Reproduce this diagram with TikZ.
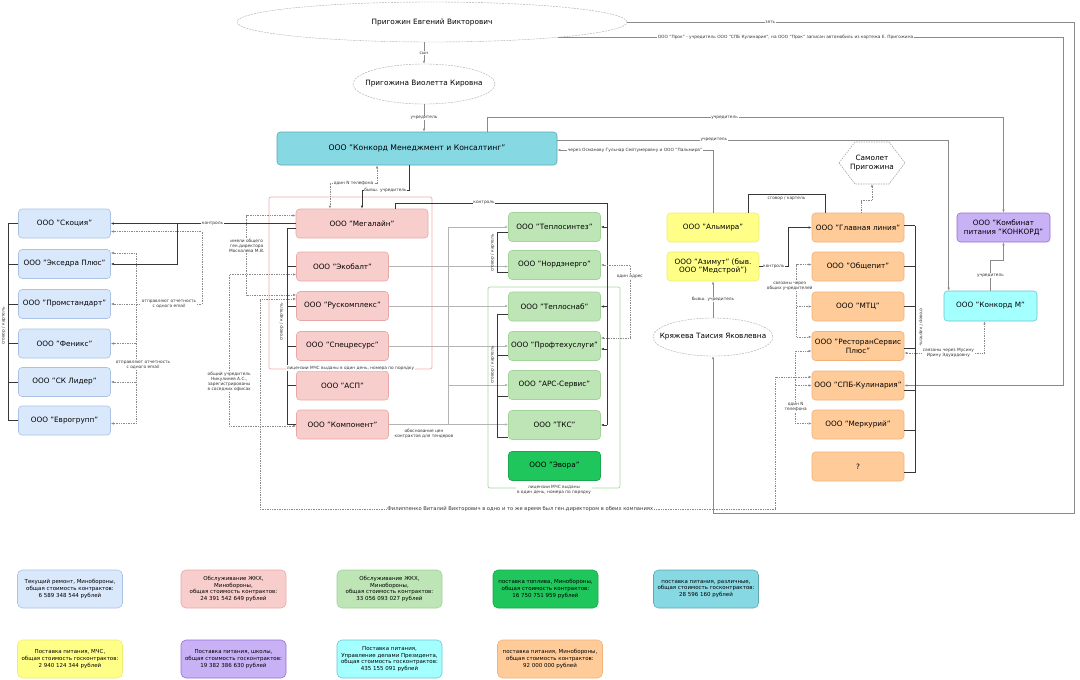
\documentclass[tikz,border=0pt]{standalone}
\usepackage{fontspec}
\setmainfont{DejaVu Sans}
\usetikzlibrary{arrows.meta,calc,shapes.geometric}
\definecolor{cBlue}{HTML}{DAE8FC}
\definecolor{cBlueD}{HTML}{A9C2E6}
\definecolor{cRed}{HTML}{F8CECC}
\definecolor{cRedD}{HTML}{E8A9A6}
\definecolor{cGrn}{HTML}{BDE5B5}
\definecolor{cGrnD}{HTML}{A3D39A}
\definecolor{cDGrn}{HTML}{1EC65C}
\definecolor{cDGrnD}{HTML}{19A84E}
\definecolor{cYel}{HTML}{FFFF88}
\definecolor{cYelD}{HTML}{EDED70}
\definecolor{cOra}{HTML}{FFCC99}
\definecolor{cOraD}{HTML}{EFB27A}
\definecolor{cTeal}{HTML}{86D8E3}
\definecolor{cTealD}{HTML}{5EA8B4}
\definecolor{cPur}{HTML}{C9B1F6}
\definecolor{cPurD}{HTML}{9470D4}
\definecolor{cCyan}{HTML}{A4FFFF}
\definecolor{cCyanD}{HTML}{6BC5D6}
\definecolor{cLn}{HTML}{8A8A8A}
\definecolor{cLn2}{HTML}{B4B4B4}
\definecolor{cDk}{HTML}{383838}
\definecolor{cEl}{HTML}{A8A8A8}
\definecolor{cRedFr}{HTML}{F2AFAF}
\definecolor{cGrnFr}{HTML}{A9D9A2}
\newcommand\bxfont{\fontsize{7.3}{8.8}\selectfont}
\newcommand\lbfont{\fontsize{4.3}{5}\selectfont}
\newcommand\lgfont{\fontsize{5.5}{6.8}\selectfont}
\newcommand\fpfont{\fontsize{5.2}{6}\selectfont}
\tikzset{
 box/.style={rounded corners=3.5pt, draw, line width=0.6pt, minimum width=92pt, minimum height=29pt, align=center, font=\bxfont, inner sep=1pt},
 bbox/.style={box, fill=cBlue, draw=cBlueD},
 rbox/.style={box, fill=cRed, draw=cRedD},
 gbox/.style={box, fill=cGrn, draw=cGrnD},
 dgbox/.style={box, fill=cDGrn, draw=cDGrnD},
 ybox/.style={box, fill=cYel, draw=cYelD},
 obox/.style={box, fill=cOra, draw=cOraD},
 elps/.style={ellipse, draw=cEl, dash pattern=on 2pt off 1pt, fill=white, font=\bxfont, inner sep=0pt},
 lgbox/.style={rounded corners=5pt, draw, line width=0.6pt, minimum width=105pt, minimum height=38pt, align=center, font=\lgfont, inner sep=1pt},
 lbl/.style={font=\lbfont, fill=white, inner sep=0.6pt, align=center, text=black!80},
 gline/.style={draw=cLn, line width=0.6pt},
 lline/.style={draw=cLn2, line width=0.6pt},
 dk/.style={draw=cDk, line width=0.9pt},
 dt/.style={draw=cLn, line width=0.6pt, dash pattern=on 0.8pt off 0.9pt},
 ar/.style={-{Latex[length=3pt,width=2.4pt]}},
 ar2/.style={{Latex[length=3pt,width=2.4pt]}-{Latex[length=3pt,width=2.4pt]}},
}
\begin{document}
\begin{tikzpicture}[x=1pt,y=-1pt]
\fill[white] (0,0) rectangle (1080,680);
\useasboundingbox (0,0) rectangle (1080,680);

% frames
\draw[cRedFr, line width=0.7pt, rounded corners=2pt] (269,197) rectangle (432,369);
\draw[cGrnFr, line width=0.7pt, rounded corners=2pt] (488,287) rectangle (620,488);

% people
\node[elps, minimum width=390pt, minimum height=40pt] (prig) at (432,22) {\makebox[0pt]{Пригожин Евгений Викторович}};
\node[elps, minimum width=142pt, minimum height=40pt] (via) at (424,84) {\makebox[0pt]{Пригожина Виолетта Кировна}};
\node[elps, minimum width=120pt, minimum height=38pt] (kry) at (713,337) {\makebox[0pt]{Кряжева Таисия Яковлевна}};

\node[box, fill=cTeal, draw=cTealD, minimum width=280pt, minimum height=33pt, font=\fontsize{7.7}{9}\selectfont] (cmc) at (417,148.5) {ООО "Конкорд Менеджмент и Консалтинг"};

% blue
\node[bbox] (sk) at (64.5,223.5) {ООО "Скоция"};
\node[bbox] (ek) at (64.5,264) {ООО "Экседра Плюс"};
\node[bbox] (ps) at (64.5,304) {ООО "Промстандарт"};
\node[bbox] (fe) at (64.5,343.5) {ООО "Феникс"};
\node[bbox] (skl) at (64.5,382) {ООО "СК Лидер"};
\node[bbox] (ev) at (64.5,420.5) {ООО "Еврогрупп"};

% red
\node[rbox, minimum width=132pt] (meg) at (362,223.5) {ООО "Мегалайн"};
\node[rbox] (eko) at (342.5,266.5) {ООО "Экобалт"};
\node[rbox] (rus) at (342.5,306) {ООО "Рускомплекс"};
\node[rbox] (spe) at (342.5,346) {ООО "Спецресурс"};
\node[rbox] (asp) at (342.5,385.5) {ООО "АСП"};
\node[rbox] (kom) at (342.5,424.5) {ООО "Компонент"};

% green
\node[gbox] (tsi) at (554.5,227) {ООО "Теплосинтез"};
\node[gbox] (nor) at (554.5,265) {ООО "Нордэнерго"};
\node[gbox] (tsn) at (554.5,306.5) {ООО "Теплоснаб"};
\node[gbox] (pro) at (554.5,346) {ООО "Профтехуслуги"};
\node[gbox] (ars) at (554.5,385) {ООО "АРС-Сервис"};
\node[gbox] (tks) at (554.5,425) {ООО "ТКС"};
\node[dgbox] (evo) at (554.5,466) {ООО "Эвора"};

% yellow
\node[ybox] (alm) at (713,227.5) {ООО "Альмира"};
\node[ybox] (azi) at (713,266.5) {ООО "Азимут" (быв.\\ООО "Медстрой")};

% orange
\node[obox] (gln) at (858,227.5) {ООО "Главная линия"};
\node[obox] (ob) at (858,266.5) {ООО "Общепит"};
\node[obox] (mtc) at (858,306.5) {ООО "МТЦ"};
\node[obox] (rs) at (858,346) {ООО "РесторанСервис\\Плюс"};
\node[obox] (spb) at (858,385.5) {ООО "СПБ-Кулинария"};
\node[obox] (mer) at (858,424.5) {ООО "Меркурий"};
\node[obox] (qq) at (858,466.5) {?};

\node[box, fill=cPur, draw=cPurD, minimum width=93pt] (kp) at (1003.5,227.5) {ООО "Комбинат\\питания "КОНКОРД"};
\node[box, fill=cCyan, draw=cCyanD, minimum width=93pt, minimum height=30pt] (km) at (990.5,306) {ООО "Конкорд М"};

% hexagon
\draw[cEl, dash pattern=on 1.5pt off 1pt, fill=white, line width=0.6pt] (839,163) -- (855,142) -- (889,142) -- (905,163) -- (889,184) -- (855,184) -- cycle;
\node[font=\bxfont, align=center] (hx) at (872,163) {Самолет\\Пригожина};
\coordinate (hxb) at (872,184);

% ---- connectors: family
\draw[gline, ar] (via.north |- prig.south) -- node[lbl]{сын} (via.north);
\draw[gline, ar] (via.south) -- node[lbl]{учредитель} (via.south |- cmc.north);
\draw[gline, ar] (prig.east) -- node[lbl,pos=0.32]{зять} ++(447,0) -- ++(0,491) -| (kry.south);
\draw[gline, ar] (prig.-7) -- node[lbl,pos=0.45]{ООО "Прок" - учредитель ООО "СПБ Кулинария", на ООО "Прок" записан автомобиль из кортежа Е. Пригожина} ++(506,0) |- (spb.east);
\draw[gline, ar] ($(cmc.north)+(70,0)$) -- ++(0,-14) -| node[lbl,pos=0.23]{учредитель} (kp.north);
\draw[gline, ar] ($(cmc.east)+(0,-8.5)$) -| node[lbl,pos=0.2]{учредитель} ($(km.north west)+(5,0)$);
\draw[gline, ar] (alm.north) |- node[lbl,pos=0.75]{через Османову Гульнар Сейтумеровну и ООО "Пальмира"} ($(cmc.east)+(0,1.5)$);

% Concord -> Megalain
\draw[dt, ar2] ($(cmc.south)+(-40,0)$) -- ++(0,18) -| node[lbl,pos=0.25]{один N телефона} ($(meg.north)+(-32,0)$);
\draw[dk, line width=0.7pt, ar] ($(cmc.south)+(-8,0)$) -- ++(0,25) -| node[lbl,pos=0.25]{бывш. учредитель} (meg.north);

% control -> green
\coordinate (kt) at (607,203);
\draw[dk] ($(meg.north)+(33,0)$) |- node[lbl,pos=0.71]{контроль} (kt) -- (kt |- tks.east);
\draw[dk, ar] (kt |- tsi.east) -- (tsi.east);
\draw[dk, ar] (kt |- tsn.east) -- (tsn.east);
\draw[dk, ar] ($(kt |- pro.east)+(0,3)$) -- ($(pro.east)+(0,3)$);
\draw[dk, ar] (kt |- tks.east) -- (tks.east);

% control -> blue
\coordinate (kc) at (177,223.5);
\draw[dk, ar] (meg.west) -- node[lbl,pos=0.45]{контроль} (sk.east);
\draw[dk, ar] (kc) |- (ek.east);

% emails
\draw[dt, ar2] ($(sk.east)+(0,8)$) -- ++(91,0) |- node[lbl,pos=0.68]{отправляют отчетность\\с одного email} (ps.east);
\coordinate (e2) at (136,253);
\draw[dt, ar2] ($(ek.east)+(0,-11)$) -- (e2) |- ($(ev.east)+(0,3)$);
\draw[dt, ar] (e2 |- fe.east) -- (fe.east);
\draw[dt, ar] (e2 |- skl.east) -- (skl.east);
\node[lbl] (em2) at (143,365) {отправляют отчетность\\с одного email};

% red group links
\draw[dt, ar2] ($(meg.west)+(0,-8)$) -- ++(-49,0) |- node[lbl,pos=0.19]{имели общего\\ген.директора\\Москалева М.В.} ($(rus.west)+(0,-11)$);
\draw[dt, ar2] ($(eko.west)+(0,8)$) -- ++(-67,0) |- node[lbl,pos=0.355]{общий учредитель\\Никулинев А.С.,\\зарегистрированы\\в соседних офисах} ($(kom.west)+(0,1.5)$);
\draw[dt, ar2] ($(rus.west)+(0,-7)$) -- ++(-36,0) -- ++(0,210) -- node[lbl,font=\fpfont,pos=0.505]{Филиппенко Виталий Викторович в одно и то же время был ген.директором в обеих компаниях} ++(515,0) |- ($(spb.west)+(0,-8.5)$);

% red -> green
\coordinate (tr) at (448,0);
\draw[lline, ar] (eko.east) -- (eko.east -| nor.west);
\draw[lline, ar] (rus.east) -- (rus.east -| tsn.west);
\draw[lline, ar] (spe.east) -- (spe.east -| pro.west);
\draw[lline, ar] (kom.east) -- (kom.east -| tks.west);
\draw[lline] (tr |- tsi.west) -- (tr |- kom.east);
\draw[lline, ar] (tr |- tsi.west) -- (tsi.west);
\draw[lline, ar] (tr |- ars.west) -- (ars.west);
\node[lbl, fill=none] (obc) at (424,434) {обоснование цен\\контрактов для тендеров};

% one address
\draw[dt, ar2] (nor.east) -- ++(29,0) |- node[lbl,pos=0.08]{один адрес} ($(pro.east)+(0,-8)$);

% Kryazheva, Azimut, Almira
\draw[gline, ar] (kry.north) -- node[lbl]{бывш. учредитель} (azi.south);
\draw[dk, line width=0.7pt, ar] (azi.east) -- node[lbl]{контроль} ++(29,0) |- (gln.west);
\draw[dk] ($(alm.north)+(35,0)$) -- ++(0,-18) -| node[lbl,pos=0.25,below=0.6pt,fill=none]{сговор / картель} ($(gln.north)+(-33,0)$);
\draw[dt, ar] ($(gln.north)+(3,0)$) -- ++(0,-12) -| (hxb);

% orange links
\coordinate (cfx) at (797,0);
\draw[dt, ar2] ($(ob.west)+(0,-2)$) -- ++(-15,0) |- node[lbl,pos=0.15,xshift=-7pt]{связаны через\\общих учредителей} ($(rs.west)+(0,-9)$);
\draw[dt, ar] (cfx |- mtc.west) -- (mtc.west);
\coordinate (tfx) at (796,0);
\draw[dt, ar2] ($(rs.west)+(0,5)$) -- ++(-16,0) |- node[lbl,pos=0.386]{один N\\телефона} ($(mer.west)+(0,-1)$);
\draw[dt, ar] (tfx |- spb.west) -- (spb.west);
\draw[dt, ar2] ($(rs.east)+(0,7)$) -| node[lbl,pos=0.275]{связаны через Мусину\\Ирину Эдуардовну} ($(km.south)+(-6,0)$);
\draw[gline, ar] (km.north) -- node[lbl]{учредитель} ++(0,-30) -| (kp.south);

% brackets
\coordinate (lbx) at (8,0);
\draw[dk] (lbx |- sk.west) -- (lbx |- ev.west);
\foreach \n in {sk,ek,ps,fe,skl,ev} \draw[dk] (lbx |- \n.west) -- (\n.west);
\node[lbl, fill=none, rotate=90] (lb1) at (3.5,326) {сговор / картель};

\coordinate (rbx) at (287,0);
\draw[dk] ($(rbx |- meg.west)+(0,5)$) -- (rbx |- kom.west);
\draw[dk] ($(rbx |- meg.west)+(0,5)$) -- ($(meg.west)+(0,5)$);
\foreach \n in {eko,rus,spe,asp,kom} \draw[dk] (rbx |- \n.west) -- (\n.west);
\node[lbl, fill=none, rotate=90] (lb2) at (281.5,322) {сговор / картель};

\coordinate (gbx) at (497,0);
\foreach \n/\o in {tsi/5,nor/7} \draw[dk] ($(gbx |- \n.west)+(0,\o)$) -- ($(\n.west)+(0,\o)$);
\draw[dk] ($(gbx |- tsi.west)+(0,5)$) -- ($(gbx |- nor.west)+(0,7)$);
\node[lbl, fill=none, rotate=90] (lb3) at (492.5,253) {сговор / картель};
\foreach \n/\o in {tsn/7.5,pro/9,ars/11,tks/12} \draw[dk] ($(gbx |- \n.west)+(0,\o)$) -- ($(\n.west)+(0,\o)$);
\draw[dk] ($(gbx |- tsn.west)+(0,7.5)$) -- ($(gbx |- tks.west)+(0,12)$);
\node[lbl, fill=none, rotate=90] (lb4) at (492.5,365) {сговор / картель};

\coordinate (obx) at (915,0);
\foreach \n/\o in {gln/-2,ob/0,mtc/0,rs/2,spb/5,mer/6,qq/6} \draw[dk] ($(\n.east)+(0,\o)$) -- ($(obx |- \n.east)+(0,\o)$);
\draw[dk] ($(obx |- gln.east)+(0,-2)$) -- ($(obx |- qq.east)+(0,6)$);
\node[lbl, fill=none, rotate=-90] (lb5) at (921,327) {сговор / картель};

% frame labels
\node[lbl] (rfl) at (350.5,368) {лицензии МЧС выданы в один день, номера по порядку};
\node[lbl] (gfl) at (554,490) {лицензии МЧС выданы\\в один день, номера по порядку};

% legend
\node[lgbox, fill=cBlue, draw=cBlueD] (lg1) at (70,589) {Текущий ремонт, Минобороны,\\общая стоимость контрактов:\\6 589 348 544 рублей};
\node[lgbox, fill=cRed, draw=cRedD] (lg2) at (233.5,589) {Обслуживание ЖКХ,\\Минобороны,\\общая стоимость контрактов:\\24 391 542 649 рублей};
\node[lgbox, fill=cGrn, draw=cGrnD] (lg3) at (389.5,589) {Обслуживание ЖКХ,\\Минобороны,\\общая стоимость контрактов:\\33 056 093 027 рублей};
\node[lgbox, fill=cDGrn, draw=cDGrnD] (lg4) at (545.5,589) {поставка топлива, Минобороны,\\общая стоимость контрактов:\\16 750 751 959 рублей};
\node[lgbox, fill=cTeal, draw=cTealD] (lg5) at (706,589) {поставка питания, различные,\\общая стоимость госконтрактов:\\28 596 160 рублей};
\node[lgbox, fill=cYel, draw=cYelD] (lg6) at (70,659) {Поставка питания, МЧС,\\общая стоимость госконтрактов:\\2 940 124 344 рублей};
\node[lgbox, fill=cPur, draw=cPurD] (lg7) at (233.5,659) {Поставка питания, школы,\\общая стоимость госконтрактов:\\19 382 386 630 рублей};
\node[lgbox, fill=cCyan, draw=cCyanD] (lg8) at (389.5,659) {Поставка питания,\\Управление делами Президента,\\общая стоимость госконтрактов:\\435 155 091 рублей};
\node[lgbox, fill=cOra, draw=cOraD] (lg9) at (550,659) {поставка питания, Минобороны,\\общая стоимость контрактов:\\92 000 000 рублей};
\end{tikzpicture}
\end{document}
